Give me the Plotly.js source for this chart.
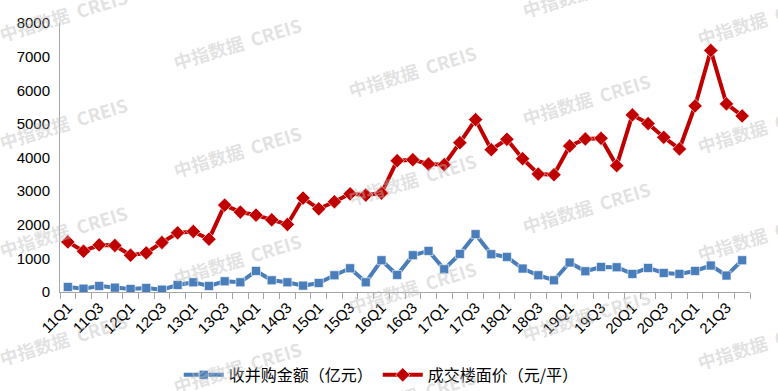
<!DOCTYPE html>
<html>
<head>
<meta charset="utf-8">
<script src="https://cdn.plot.ly/plotly-3.0.1.min.js"></script>
<style>html,body{margin:0;padding:0;background:#fff;}#chart{width:778px;height:391px;}</style>
</head>
<body>
<div id="chart"></div>
<script>
const categories = ["11Q1","11Q2","11Q3","11Q4","12Q1","12Q2","12Q3","12Q4","13Q1","13Q2","13Q3","13Q4",
  "14Q1","14Q2","14Q3","14Q4","15Q1","15Q2","15Q3","15Q4","16Q1","16Q2","16Q3","16Q4",
  "17Q1","17Q2","17Q3","17Q4","18Q1","18Q2","18Q3","18Q4","19Q1","19Q2","19Q3","19Q4",
  "20Q1","20Q2","20Q3","20Q4","21Q1","21Q2","21Q3","21Q4"];
const mnaAmount = [149,99,179,129,89,119,70,209,289,179,319,289,
  626,349,289,189,268,498,706,289,945,507,1094,1222,
  677,1133,1720,1124,1043,697,498,349,876,617,745,736,
  537,715,566,537,626,787,489,945];
const floorPrice = [1490,1213,1401,1383,1094,1163,1472,1759,1800,1571,2584,2376,
  2286,2146,2008,2793,2474,2683,2921,2882,2942,3905,3934,3806,
  3786,4441,5127,4232,4542,3964,3508,3488,4343,4551,4571,3756,
  5267,5008,4601,4254,5535,7183,5594,5237];
const seriesNames = ["收并购金额（亿元）","成交楼面价（元/平）"];
const tickText = categories.map((c,i)=> i%2===0 ? c : "");
const watermark = "中指数据  CREIS";

const traces = [
  {x: categories, y: mnaAmount, name: seriesNames[0], type: "scatter", mode: "lines+markers",
   line: {color: "#4A7EBB", width: 4},
   marker: {symbol: "square", size: 9, color: "#4A7EBB", line: {color: "rgba(255,255,255,0.6)", width: 1}}},
  {x: categories, y: floorPrice, name: seriesNames[1], type: "scatter", mode: "lines+markers",
   line: {color: "#C00000", width: 4},
   marker: {symbol: "diamond", size: 11, color: "#C00000", line: {color: "rgba(255,255,255,0.6)", width: 1}}}
];

// watermark tiles (decoration)
const L = 60, T = 23, W = 690, H = 269;
const annotations = [];
for (let c = 0; c < 5; c++) {
  const px = 63 + 174.5 * c;
  let y0 = (15 + 28 * c) % 108;
  for (let py = y0 - 108; py < 430; py += 108) {
    if (py < -12 || py > 400) continue;
    annotations.push({text: watermark, xref: "paper", yref: "paper",
      x: (px - L) / W, y: (T + H - py) / H, xanchor: "center", yanchor: "middle",
      showarrow: false, textangle: -17,
      font: {family: "Noto Sans CJK SC, sans-serif", size: 18, color: "rgba(190,190,190,0.45)", weight: "bold"}});
  }
}

const layout = {
  width: 778, height: 391,
  margin: {l: 60, r: 28, t: 23, b: 99},
  paper_bgcolor: "#fff", plot_bgcolor: "#fff",
  showlegend: true,
  legend: {orientation: "h", xref: "container", yref: "container", x: 0.49, xanchor: "center", y: 0.041, yanchor: "middle",
    font: {family: "Noto Sans CJK SC, sans-serif", size: 16, color: "#000"}, itemwidth: 40},
  xaxis: {type: "category", range: [-0.5, 43.5], tickvals: categories, ticktext: tickText, automargin: false,
    tickangle: -45, tickson: "boundaries", ticks: "outside", ticklen: 6, tickcolor: "#A6A6A6",
    showline: true, linecolor: "#A6A6A6", linewidth: 1, showgrid: false, zeroline: false,
    tickfont: {family: "Liberation Sans, Arial, sans-serif", size: 15, color: "#000"}},
  yaxis: {range: [0, 8000], dtick: 1000, showline: true, linecolor: "#A6A6A6", linewidth: 1, automargin: false,
    showgrid: false, zeroline: false, ticks: "", ticklabelstandoff: 6,
    tickfont: {family: "Liberation Sans, Arial, sans-serif", size: 15, color: "#000"}},
  annotations: annotations
};

Plotly.newPlot("chart", traces, layout, {displayModeBar: false, staticPlot: true});
</script>
</body>
</html>
